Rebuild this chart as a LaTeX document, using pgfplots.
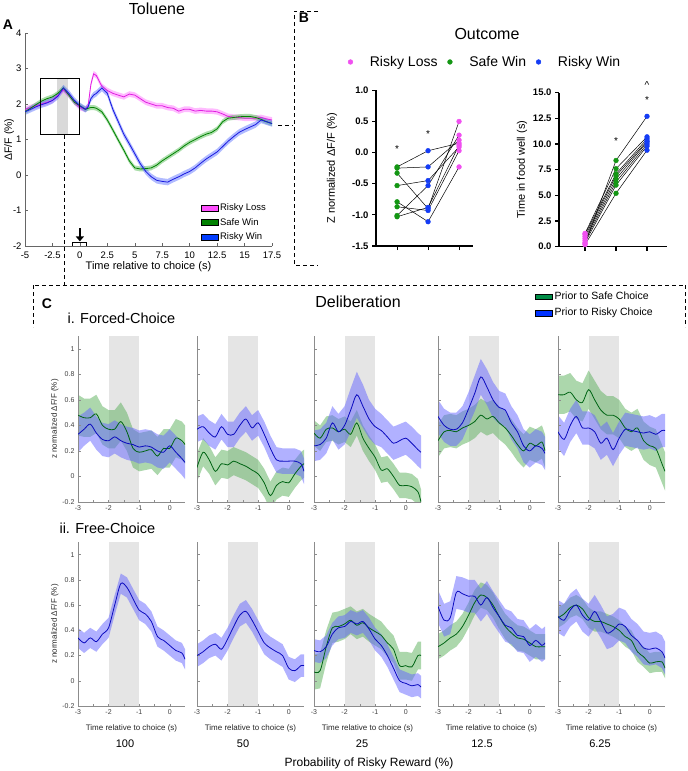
\documentclass[border=0pt]{standalone}
\usepackage{fontspec}
\setmainfont{Liberation Sans}
\usepackage{pgfplots}
\pgfplotsset{compat=1.18}
\usepackage{pgfplotstable}
\usetikzlibrary{arrows.meta}

\newcommand{\fs}[1]{\fontsize{#1}{#1}\selectfont}

\definecolor{aM}{RGB}{225,30,225}\definecolor{aMf}{RGB}{255,120,255}
\definecolor{aG}{RGB}{0,130,0}\definecolor{aGf}{RGB}{90,190,90}
\definecolor{aB}{RGB}{25,25,225}\definecolor{aBf}{RGB}{100,120,255}
\definecolor{lM}{RGB}{255,80,255}\definecolor{lG}{RGB}{0,128,0}\definecolor{lB}{RGB}{0,60,255}
\definecolor{bM}{RGB}{240,80,240}\definecolor{bG}{RGB}{20,150,20}\definecolor{bB}{RGB}{20,60,245}
\definecolor{cG}{RGB}{0,100,20}\definecolor{cGf}{RGB}{90,175,90}
\definecolor{cB}{RGB}{10,10,190}\definecolor{cBf}{RGB}{100,100,255}
\definecolor{cGl}{RGB}{0,140,70}\definecolor{cBl}{RGB}{0,50,255}

% ---------- Panel A data ----------
\pgfplotstableread{
x m g b
-5 1.85 1.78 1.78
-4.5 1.9 1.88 1.85
-4 1.95 1.98 1.92
-3.5 2.0 2.08 1.98
-3 2.05 2.15 2.03
-2.5 2.1 2.2 2.1
-2 2.25 2.3 2.22
-1.5 2.4 2.45 2.45
-1 2.25 2.25 2.3
-0.5 2.05 2.05 2.1
0 1.9 1.95 1.95
0.5 1.85 1.85 1.85
0.75 1.95 1.88 1.92
1 2.55 1.9 2.15
1.25 2.85 1.9 2.25
1.5 2.8 1.88 2.3
2 2.5 1.78 2.45
2.5 2.38 1.55 2.3
3 2.3 1.27 1.85
3.5 2.25 0.98 1.5
4 2.2 0.7 1.15
4.5 2.28 0.4 0.88
5 2.25 0.2 0.6
5.5 2.15 0.17 0.32
6 2.05 0.18 0.1
6.5 2.0 0.2 -0.05
7 1.95 0.28 -0.15
7.5 1.95 0.4 -0.18
8 1.9 0.5 -0.2
8.5 1.88 0.6 -0.12
9 1.8 0.7 -0.05
9.5 1.85 0.82 0.03
10 1.85 0.92 0.1
10.5 1.8 1.0 0.2
11 1.82 1.08 0.33
11.5 1.8 1.15 0.45
12 1.8 1.2 0.55
12.5 1.78 1.3 0.65
13 1.72 1.5 0.8
13.5 1.65 1.6 0.95
14 1.63 1.62 1.08
14.5 1.62 1.64 1.2
15 1.6 1.65 1.28
15.5 1.6 1.65 1.35
16 1.6 1.62 1.42
16.5 1.62 1.57 1.55
17 1.58 1.5 1.5
17.5 1.55 1.45 1.45
}\tA

% ---------- Panel C data (top row: forced choice) ----------
\pgfplotstableread{
x g ge b be
-3 0.48 0.16 0.33 0.14
-2.8 0.46 0.15 0.37 0.13
-2.6 0.46 0.15 0.41 0.13
-2.4 0.49 0.15 0.34 0.13
-2.2 0.40 0.15 0.29 0.13
-2.0 0.37 0.15 0.28 0.13
-1.8 0.37 0.15 0.31 0.13
-1.6 0.43 0.15 0.28 0.13
-1.4 0.35 0.15 0.26 0.13
-1.2 0.22 0.15 0.25 0.13
-1.0 0.19 0.15 0.23 0.13
-0.8 0.20 0.15 0.24 0.13
-0.6 0.21 0.15 0.23 0.13
-0.4 0.16 0.15 0.20 0.13
-0.2 0.22 0.15 0.19 0.13
0 0.22 0.15 0.24 0.13
0.2 0.30 0.15 0.19 0.13
0.4 0.28 0.15 0.14 0.13
0.5 0.25 0.15 0.11 0.13
}\tCa
\pgfplotstableread{
x g ge b be
-3 0.07 0.11 0.37 0.10
-2.8 0.19 0.11 0.39 0.10
-2.6 0.13 0.11 0.34 0.10
-2.4 0.04 0.11 0.31 0.10
-2.2 0.10 0.11 0.39 0.10
-2.0 0.09 0.11 0.33 0.10
-1.8 0.12 0.11 0.33 0.10
-1.6 0.10 0.11 0.40 0.10
-1.4 0.08 0.11 0.45 0.10
-1.2 0.05 0.11 0.38 0.10
-1.0 0.02 0.11 0.42 0.10
-0.8 -0.05 0.11 0.33 0.10
-0.6 -0.15 0.11 0.22 0.10
-0.4 -0.07 0.11 0.13 0.10
-0.2 -0.04 0.11 0.12 0.10
0 -0.05 0.11 0.12 0.10
0.2 0.02 0.11 0.12 0.10
0.4 0.08 0.11 0.10 0.10
0.5 0.10 0.11 0.04 0.10
}\tCb
\pgfplotstableread{
x g ge b be
-3 0.34 0.10 0.24 0.12
-2.8 0.30 0.10 0.25 0.12
-2.6 0.37 0.10 0.30 0.12
-2.4 0.38 0.10 0.42 0.13
-2.2 0.35 0.10 0.35 0.14
-2.0 0.37 0.10 0.40 0.15
-1.8 0.33 0.10 0.52 0.17
-1.6 0.42 0.10 0.64 0.18
-1.4 0.30 0.10 0.55 0.17
-1.2 0.22 0.10 0.45 0.15
-1.0 0.15 0.10 0.39 0.14
-0.8 0.05 0.10 0.36 0.13
-0.6 0.06 0.10 0.31 0.13
-0.4 0.00 0.10 0.26 0.13
-0.2 -0.07 0.10 0.28 0.13
0 -0.07 0.10 0.30 0.13
0.2 -0.08 0.10 0.26 0.13
0.4 -0.12 0.10 0.21 0.13
0.5 -0.20 0.10 0.19 0.13
}\tCc
\pgfplotstableread{
x g ge b be
-3 0.28 0.13 0.47 0.13
-2.8 0.35 0.13 0.40 0.13
-2.6 0.36 0.13 0.37 0.13
-2.4 0.35 0.13 0.37 0.13
-2.2 0.38 0.13 0.42 0.13
-2.0 0.40 0.13 0.53 0.13
-1.8 0.43 0.13 0.65 0.14
-1.6 0.48 0.13 0.78 0.14
-1.4 0.45 0.13 0.70 0.14
-1.2 0.47 0.13 0.60 0.14
-1.0 0.42 0.13 0.54 0.13
-0.8 0.38 0.13 0.52 0.13
-0.6 0.32 0.13 0.42 0.13
-0.4 0.25 0.13 0.35 0.13
-0.2 0.20 0.13 0.24 0.13
0 0.26 0.13 0.20 0.13
0.2 0.24 0.13 0.24 0.13
0.4 0.27 0.13 0.22 0.13
0.5 0.20 0.13 0.18 0.13
}\tCd
\pgfplotstableread{
x g ge b be
-3 0.64 0.15 0.35 0.13
-2.8 0.64 0.15 0.29 0.13
-2.6 0.66 0.15 0.40 0.13
-2.4 0.60 0.15 0.47 0.13
-2.2 0.58 0.15 0.38 0.13
-2.0 0.68 0.15 0.38 0.13
-1.8 0.60 0.15 0.35 0.13
-1.6 0.52 0.15 0.26 0.13
-1.4 0.48 0.15 0.30 0.13
-1.2 0.48 0.15 0.21 0.13
-1.0 0.45 0.15 0.30 0.13
-0.8 0.38 0.15 0.37 0.13
-0.6 0.35 0.15 0.36 0.13
-0.4 0.38 0.15 0.35 0.13
-0.2 0.28 0.15 0.34 0.13
0 0.24 0.15 0.35 0.13
0.2 0.22 0.15 0.33 0.13
0.4 0.10 0.15 0.36 0.13
0.5 0.04 0.15 0.36 0.13
}\tCe

% ---------- Panel C data (bottom row: free choice) ----------
\pgfplotstableread{
x b be
-3 0.34 0.08
-2.8 0.30 0.08
-2.6 0.34 0.08
-2.4 0.31 0.08
-2.2 0.37 0.08
-2.0 0.42 0.08
-1.8 0.60 0.08
-1.6 0.77 0.08
-1.4 0.74 0.08
-1.2 0.65 0.08
-1.0 0.56 0.08
-0.8 0.53 0.08
-0.6 0.47 0.08
-0.4 0.35 0.08
-0.2 0.32 0.08
0 0.28 0.08
0.2 0.24 0.08
0.4 0.22 0.08
0.5 0.17 0.08
}\tDa
\pgfplotstableread{
x b be
-3 0.20 0.09
-2.8 0.23 0.09
-2.6 0.27 0.09
-2.4 0.29 0.09
-2.2 0.25 0.09
-2.0 0.33 0.09
-1.8 0.43 0.09
-1.6 0.52 0.09
-1.4 0.55 0.09
-1.2 0.48 0.09
-1.0 0.39 0.09
-0.8 0.30 0.09
-0.6 0.26 0.09
-0.4 0.23 0.09
-0.2 0.20 0.09
0 0.10 0.09
0.2 0.08 0.09
0.4 0.12 0.09
0.5 0.12 0.09
}\tDb
\pgfplotstableread{
x g ge b be
-3 0.07 0.14 0.24 0.09
-2.8 0.08 0.14 0.23 0.09
-2.6 0.27 0.13 0.27 0.09
-2.4 0.42 0.12 0.37 0.09
-2.2 0.43 0.12 0.42 0.09
-2.0 0.45 0.12 0.43 0.09
-1.8 0.48 0.11 0.47 0.09
-1.6 0.44 0.11 0.45 0.09
-1.4 0.46 0.11 0.47 0.09
-1.2 0.42 0.11 0.41 0.09
-1.0 0.39 0.11 0.33 0.09
-0.8 0.36 0.11 0.28 0.09
-0.6 0.30 0.11 0.20 0.09
-0.4 0.25 0.11 0.10 0.09
-0.2 0.12 0.11 0.00 0.09
0 0.12 0.11 -0.02 0.09
0.2 0.11 0.11 -0.04 0.09
0.4 0.20 0.11 -0.03 0.09
0.5 0.20 0.11 -0.05 0.09
}\tDc
\pgfplotstableread{
x g ge b be
-3 0.27 0.10 0.59 0.13
-2.8 0.30 0.10 0.48 0.13
-2.6 0.34 0.10 0.50 0.13
-2.4 0.37 0.10 0.70 0.13
-2.2 0.43 0.10 0.69 0.13
-2.0 0.52 0.10 0.67 0.13
-1.8 0.62 0.10 0.67 0.13
-1.6 0.68 0.10 0.60 0.13
-1.4 0.66 0.10 0.66 0.13
-1.2 0.60 0.10 0.58 0.13
-1.0 0.51 0.10 0.51 0.13
-0.8 0.43 0.10 0.44 0.13
-0.6 0.38 0.10 0.42 0.13
-0.4 0.34 0.10 0.36 0.13
-0.2 0.33 0.10 0.35 0.13
0 0.30 0.10 0.28 0.13
0.2 0.27 0.10 0.32 0.13
0.4 0.27 0.10 0.28 0.13
0.5 0.27 0.10 0.30 0.13
}\tDd
\pgfplotstableread{
x g ge b be
-3 0.50 0.08 0.51 0.13
-2.8 0.53 0.08 0.48 0.13
-2.6 0.58 0.08 0.56 0.13
-2.4 0.60 0.08 0.60 0.13
-2.2 0.57 0.08 0.52 0.13
-2.0 0.50 0.08 0.48 0.13
-1.8 0.47 0.08 0.55 0.13
-1.6 0.47 0.08 0.47 0.13
-1.4 0.45 0.08 0.38 0.13
-1.2 0.43 0.08 0.40 0.13
-1.0 0.40 0.08 0.45 0.13
-0.8 0.35 0.08 0.43 0.13
-0.6 0.32 0.08 0.36 0.13
-0.4 0.23 0.08 0.32 0.13
-0.2 0.19 0.08 0.26 0.13
0 0.14 0.08 0.25 0.13
0.2 0.15 0.08 0.26 0.13
0.4 0.15 0.08 0.23 0.13
0.5 0.10 0.08 0.18 0.13
}\tDe

\pgfplotsset{
  geomA/.style={scale only axis, width=247pt, height=213pt, xmin=-5, xmax=17.5, ymin=-2, ymax=4},
  geomCt/.style={scale only axis, width=107pt, height=166pt, xmin=-3, xmax=0.5, ymin=-0.2, ymax=1.1},
  geomCb/.style={scale only axis, width=107pt, height=164pt, xmin=-3, xmax=0.5, ymin=-0.2, ymax=1.1},
  cstyle/.style={axis x line*=bottom, axis y line*=left, axis line style={-, draw=black!45},
    tick align=inside, major tick length=2.5pt, minor tick length=2.5pt,
    every tick/.style={black!45}, every minor tick/.style={black!45},
    xtick={-3,-2,-1,0}, xticklabels={-3,-2,-1,0}, minor xtick={-2.5,-1.5,-0.5},
    ytick={-0.2,0,0.2,0.4,0.6,0.8,1}, yticklabels={},
    ticklabel style={font=\fs{7}, text=black!75},
    xlabel style={font=\fs{8}, text=black!85, yshift=-3pt},
    ylabel style={font=\fs{8}, text=black!85, yshift=-3pt}},
  ctop/.style={geomCt, cstyle},
  cbot/.style={geomCb, cstyle, xlabel={Time relative to choice (s)}},
  cfirst/.style={yticklabels={-0.2,0,0.2,0.4,0.6,0.8,1}, ylabel={z normalized ΔF/F (\%)}},
  bstyle/.style={scale only axis, axis x line*=bottom, axis y line*=left,
    axis line style={-, line width=1.1pt}, tick align=outside, major tick length=4pt,
    every tick/.style={black, line width=1.1pt}, xtick={1,2,3}, xticklabels={},
    clip=false, ticklabel style={font=\bfseries\fs{9.5}},
    ylabel style={font=\fs{11}}},
}

% band in its own hidden axis: #1 geometry, #2 position, #3 table, #4 column, #5 error, #6 colour
\newcommand{\bandax}[6]{%
\begin{axis}[#1, at={#2}, anchor=south west, hide axis, stack plots=y]
\addplot[draw=none] table[x=x, y expr=\thisrow{#4}-#5]{#3};
\addplot[fill=#6, fill opacity=0.5, draw=none] table[x=x, y expr=2*#5]{#3} \closedcycle;
\end{axis}}
% grey window in its own hidden axis: #1 geometry, #2 position
\newcommand{\shadeax}[2]{%
\begin{axis}[#1, at={#2}, anchor=south west, hide axis]
\addplot[fill=black!10, draw=none] coordinates {(-2,-0.2) (-2,1.1) (-1,1.1) (-1,-0.2)} -- cycle;
\end{axis}}
\newcommand{\gline}[1]{\addplot[cG, line width=0.8pt, smooth] table[x=x, y=g]{#1};}
\newcommand{\bline}[1]{\addplot[cB, line width=0.8pt, smooth] table[x=x, y=b]{#1};}

\begin{document}
\begin{tikzpicture}[x=1pt,y=1pt]
\useasboundingbox (0,0) rectangle (688,-771);

% ================= Panel A =================
\begin{axis}[geomA, at={(25pt,-246pt)}, anchor=south west, hide axis]
\addplot[fill=black!15, draw=none] coordinates {(-2.05,1.13) (-2.05,2.72) (-1.1,2.72) (-1.1,1.13)} -- cycle;
\end{axis}
\bandax{geomA}{(25pt,-246pt)}{\tA}{m}{0.08}{aMf}
\bandax{geomA}{(25pt,-246pt)}{\tA}{g}{0.07}{aGf}
\bandax{geomA}{(25pt,-246pt)}{\tA}{b}{0.09}{aBf}
\begin{axis}[geomA, at={(25pt,-246pt)}, anchor=south west,
  axis x line*=bottom, axis y line*=left, axis line style={-, draw=black!60},
  tick align=inside, major tick length=3pt, every tick/.style={black!60},
  xtick={-5,-2.5,0,2.5,5,7.5,10,12.5,15,17.5},
  xticklabels={-5,-2.5,0,2.5,5,7.5,10,12.5,15,17.5},
  ytick={-2,-1,0,1,2,3,4}, yticklabels={-2,-1,0,1,2,3,4},
  ticklabel style={font=\fs{9.5}},
  xticklabel style={yshift=-2pt},
  xlabel={Time relative to choice (s)}, ylabel={ΔF/F (\%)},
  xlabel style={font=\fs{11}, yshift=4pt}, ylabel style={font=\fs{10.5}, yshift=-8pt},
  legend style={at={(0.71,0.208)}, anchor=north west, draw=none, fill=none,
    font=\fs{9.5}, row sep=2pt, inner sep=0pt},
  legend cell align=left]
\addlegendimage{area legend, fill=lM, draw=none}
\addlegendimage{area legend, fill=lG, draw=none}
\addlegendimage{area legend, fill=lB, draw=none}
\addplot[aM, line width=0.8pt] table[x=x, y=m]{\tA};
\addplot[aG, line width=0.8pt] table[x=x, y=g]{\tA};
\addplot[aB, line width=0.8pt] table[x=x, y=b]{\tA};
\legend{Risky Loss, Safe Win, Risky Win}
\draw[line width=1pt] (axis cs:-3.55,1.13) rectangle (axis cs:0,2.72);
\draw[-{Triangle[width=8pt,length=5pt]}, line width=2.6pt] (axis cs:0,-1.5) -- (axis cs:0,-1.87);
\draw[line width=1pt] (axis cs:-0.65,-2.0) -- (axis cs:-0.65,-1.9) -- (axis cs:0.6,-1.9) -- (axis cs:0.6,-2.0);
\end{axis}

\node[font=\fs{16}] at (157,-9) {Toluene};
\node[font=\bfseries\fs{14}] at (8,-25) {A};

% ================= Panel B =================
\node[font=\bfseries\fs{14}] at (304,-18) {B};
\node[font=\fs{16}] at (487,-34) {Outcome};

\begin{axis}[bstyle, at={(376pt,-246pt)}, anchor=south west, width=97pt, height=155.7pt,
  xmin=0.32, xmax=3.45, ymin=-1.5, ymax=1.0,
  ytick={-1.5,-1,-0.5,0,0.5,1}, yticklabels={-1.5,-1.0,-0.5,0.0,0.5,1.0},
  ylabel={Z normalized ΔF/F (\%)}, ylabel style={yshift=8pt},
  legend style={at={(-0.29,1.182)}, anchor=west, draw=none, fill=none,
    font=\fs{14}, legend columns=3, inner sep=0pt,
    /tikz/every odd column/.append style={column sep=15pt},
    /tikz/every even column/.append style={column sep=8pt}}]
\addlegendimage{only marks, mark=*, mark size=2.4pt, bM, mark options={draw=bM, fill=bM}}
\addlegendimage{only marks, mark=*, mark size=2.4pt, bG, mark options={draw=bG, fill=bG}}
\addlegendimage{only marks, mark=*, mark size=2.4pt, bB, mark options={draw=bB, fill=bB}}
\addplot[black, line width=0.5pt] coordinates {(1,-0.23) (2,0.03) (3,0.15)};
\addplot[black, line width=0.5pt] coordinates {(1,-0.25) (2,-0.23) (3,0.20)};
\addplot[black, line width=0.5pt] coordinates {(1,-0.33) (2,-0.90) (3,0.50)};
\addplot[black, line width=0.5pt] coordinates {(1,-0.53) (2,-0.45) (3,0.09)};
\addplot[black, line width=0.5pt] coordinates {(1,-0.79) (2,-1.11) (3,-0.23)};
\addplot[black, line width=0.5pt] coordinates {(1,-0.87) (2,-0.93) (3,0.03)};
\addplot[black, line width=0.5pt] coordinates {(1,-1.01) (2,-0.53) (3,0.28)};
\addplot[black, line width=0.5pt] coordinates {(1,-1.03) (2,-0.88) (3,0.12)};
\addplot[only marks, mark=*, mark size=2.4pt, bG] coordinates {(1,-0.23) (1,-0.25) (1,-0.33) (1,-0.53) (1,-0.79) (1,-0.87) (1,-1.01) (1,-1.03)};
\addplot[only marks, mark=*, mark size=2.4pt, bB] coordinates {(2,0.03) (2,-0.23) (2,-0.90) (2,-0.45) (2,-1.11) (2,-0.93) (2,-0.53) (2,-0.88)};
\addplot[only marks, mark=*, mark size=2.4pt, bM] coordinates {(3,0.15) (3,0.20) (3,0.50) (3,0.09) (3,-0.23) (3,0.03) (3,0.28) (3,0.12)};
\legend{Risky Loss, Safe Win, Risky Win}
\node[font=\fs{10}] at (axis cs:1,0.05) {*};
\node[font=\fs{10}] at (axis cs:2,0.29) {*};
\end{axis}

\begin{axis}[bstyle, at={(559pt,-246.7pt)}, anchor=south west, width=108pt, height=154pt,
  xmin=0.16, xmax=3.645, ymin=0, ymax=15,
  ytick={0,2.5,5,7.5,10,12.5,15}, yticklabels={0.0,2.5,5.0,7.5,10.0,12.5,15.0},
  ylabel={Time in food well (s)}, ylabel style={yshift=-1pt}]
\addplot[black, line width=0.5pt] coordinates {(1,0.2) (2,5.2) (3,9.4)};
\addplot[black, line width=0.5pt] coordinates {(1,0.4) (2,6.0) (3,9.8)};
\addplot[black, line width=0.5pt] coordinates {(1,0.6) (2,6.3) (3,10.0)};
\addplot[black, line width=0.5pt] coordinates {(1,0.8) (2,6.6) (3,10.2)};
\addplot[black, line width=0.5pt] coordinates {(1,1.0) (2,6.9) (3,10.3)};
\addplot[black, line width=0.5pt] coordinates {(1,1.2) (2,7.1) (3,10.5)};
\addplot[black, line width=0.5pt] coordinates {(1,1.3) (2,7.6) (3,10.7)};
\addplot[black, line width=0.5pt] coordinates {(1,0.3) (2,8.4) (3,12.7)};
\addplot[only marks, mark=*, mark size=2.4pt, bM] coordinates {(1,0.2) (1,0.4) (1,0.6) (1,0.8) (1,1.0) (1,1.2) (1,1.3) (1,0.3)};
\addplot[only marks, mark=*, mark size=2.4pt, bG] coordinates {(2,5.2) (2,6.0) (2,6.3) (2,6.6) (2,6.9) (2,7.1) (2,7.6) (2,8.4)};
\addplot[only marks, mark=*, mark size=2.4pt, bB] coordinates {(3,9.4) (3,9.8) (3,10.0) (3,10.2) (3,10.3) (3,10.5) (3,10.7) (3,12.7)};
\node[font=\fs{10}] at (axis cs:2,10.3) {*};
\node[font=\fs{10}] at (axis cs:3,14.3) {*};
\node[font=\fs{10}] at (axis cs:3,15.7) {\^{}};
\end{axis}

% ================= Panel C =================
\node[font=\bfseries\fs{14}] at (47,-304) {C};
\node[font=\fs{16}] at (358,-302) {Deliberation};
\node[font=\fs{14.5}, anchor=west] at (64,-318) {i. Forced-Choice};
\node[font=\fs{14.5}, anchor=west] at (56,-528) {ii. Free-Choice};

% top row
\shadeax{geomCt}{(78pt,-502pt)}
\bandax{geomCt}{(78pt,-502pt)}{\tCa}{g}{\thisrow{ge}}{cGf}
\bandax{geomCt}{(78pt,-502pt)}{\tCa}{b}{\thisrow{be}}{cBf}
\begin{axis}[ctop, cfirst, at={(78pt,-502pt)}, anchor=south west]
\gline{\tCa}\bline{\tCa}
\end{axis}

\shadeax{geomCt}{(197pt,-502pt)}
\bandax{geomCt}{(197pt,-502pt)}{\tCb}{g}{\thisrow{ge}}{cGf}
\bandax{geomCt}{(197pt,-502pt)}{\tCb}{b}{\thisrow{be}}{cBf}
\begin{axis}[ctop, at={(197pt,-502pt)}, anchor=south west]
\gline{\tCb}\bline{\tCb}
\end{axis}

\shadeax{geomCt}{(314pt,-502pt)}
\bandax{geomCt}{(314pt,-502pt)}{\tCc}{g}{\thisrow{ge}}{cGf}
\bandax{geomCt}{(314pt,-502pt)}{\tCc}{b}{\thisrow{be}}{cBf}
\begin{axis}[ctop, at={(314pt,-502pt)}, anchor=south west]
\gline{\tCc}\bline{\tCc}
\end{axis}

\shadeax{geomCt}{(438pt,-502pt)}
\bandax{geomCt}{(438pt,-502pt)}{\tCd}{g}{\thisrow{ge}}{cGf}
\bandax{geomCt}{(438pt,-502pt)}{\tCd}{b}{\thisrow{be}}{cBf}
\begin{axis}[ctop, at={(438pt,-502pt)}, anchor=south west]
\gline{\tCd}\bline{\tCd}
\end{axis}

\shadeax{geomCt}{(558pt,-502pt)}
\bandax{geomCt}{(558pt,-502pt)}{\tCe}{g}{\thisrow{ge}}{cGf}
\bandax{geomCt}{(558pt,-502pt)}{\tCe}{b}{\thisrow{be}}{cBf}
\begin{axis}[ctop, at={(558pt,-502pt)}, anchor=south west,
  legend style={at={(-0.215,1.277)}, anchor=north west, draw=none, fill=none,
    font=\fs{10.5}, row sep=3pt, inner sep=0pt},
  legend cell align=left]
\addlegendimage{area legend, fill=cGl, draw=none}
\addlegendimage{area legend, fill=cBl, draw=none}
\gline{\tCe}\bline{\tCe}
\legend{Prior to Safe Choice, Prior to Risky Choice}
\end{axis}

% bottom row
\shadeax{geomCb}{(78pt,-706pt)}
\bandax{geomCb}{(78pt,-706pt)}{\tDa}{b}{\thisrow{be}}{cBf}
\begin{axis}[cbot, cfirst, at={(78pt,-706pt)}, anchor=south west]
\bline{\tDa}
\end{axis}

\shadeax{geomCb}{(197pt,-706pt)}
\bandax{geomCb}{(197pt,-706pt)}{\tDb}{b}{\thisrow{be}}{cBf}
\begin{axis}[cbot, at={(197pt,-706pt)}, anchor=south west]
\bline{\tDb}
\end{axis}

\shadeax{geomCb}{(314pt,-706pt)}
\bandax{geomCb}{(314pt,-706pt)}{\tDc}{g}{\thisrow{ge}}{cGf}
\bandax{geomCb}{(314pt,-706pt)}{\tDc}{b}{\thisrow{be}}{cBf}
\begin{axis}[cbot, at={(314pt,-706pt)}, anchor=south west]
\gline{\tDc}\bline{\tDc}
\end{axis}

\shadeax{geomCb}{(438pt,-706pt)}
\bandax{geomCb}{(438pt,-706pt)}{\tDd}{g}{\thisrow{ge}}{cGf}
\bandax{geomCb}{(438pt,-706pt)}{\tDd}{b}{\thisrow{be}}{cBf}
\begin{axis}[cbot, at={(438pt,-706pt)}, anchor=south west]
\gline{\tDd}\bline{\tDd}
\end{axis}

\shadeax{geomCb}{(558pt,-706pt)}
\bandax{geomCb}{(558pt,-706pt)}{\tDe}{g}{\thisrow{ge}}{cGf}
\bandax{geomCb}{(558pt,-706pt)}{\tDe}{b}{\thisrow{be}}{cBf}
\begin{axis}[cbot, at={(558pt,-706pt)}, anchor=south west]
\gline{\tDe}\bline{\tDe}
\end{axis}

\foreach \xx/\lab in {125/100, 243/50, 362/25, 482/12.5, 600/6.25}
  \node[font=\fs{11}] at (\xx,-744) {\lab};
\node[font=\fs{12}] at (369,-763) {Probability of Risky Reward (\%)};

% ================= dashed frames =================
\begin{scope}[line width=0.8pt, dash pattern=on 4pt off 3pt]
\draw (64,-135) -- (64,-285);
\draw (35,-285) -- (685,-285);
\draw (33,-285) -- (33,-327);
\draw (685,-285) -- (685,-327);
\draw (278,-125) -- (293,-125);
\draw (318,-11) -- (294,-11) -- (294,-265) -- (318,-265);
\end{scope}
\end{tikzpicture}
\end{document}
